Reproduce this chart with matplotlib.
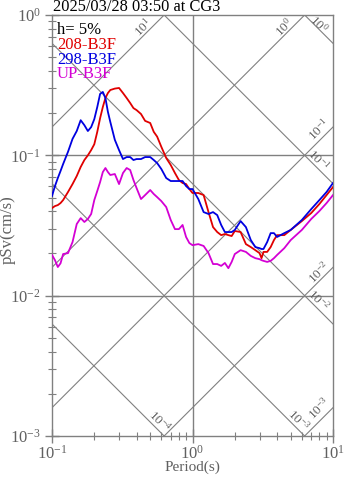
import numpy as np
import matplotlib
matplotlib.use("Agg")
import matplotlib.pyplot as plt
from matplotlib.ticker import LogLocator, LogFormatterSciNotation, NullFormatter

plt.rcParams['font.family'] = ['Liberation Serif', 'DejaVu Serif']
plt.rcParams['mathtext.fontset'] = 'custom'
plt.rcParams['mathtext.rm'] = 'Liberation Serif'
plt.rcParams['mathtext.it'] = 'Liberation Serif:italic'
plt.rcParams['mathtext.bf'] = 'Liberation Serif:bold'

# ---- response spectra (pSv, cm/s) ----
periods = [0.10, 0.105, 0.11, 0.115, 0.12, 0.13, 0.14, 0.15, 0.16, 0.17, 0.18, 0.19,
           0.20, 0.21, 0.22, 0.23, 0.24, 0.25, 0.26, 0.28, 0.30, 0.32, 0.34, 0.36,
           0.38, 0.40, 0.43, 0.46, 0.50, 0.53, 0.56, 0.60, 0.65, 0.70, 0.75, 0.80,
           0.85, 0.90, 0.95, 1.0, 1.1, 1.2, 1.3, 1.4, 1.5, 1.6, 1.7, 1.8, 1.9, 2.0,
           2.2, 2.4, 2.6, 2.8, 3.0, 3.1, 3.2, 3.4, 3.6, 3.8, 4.0, 4.5, 5.0, 6.0,
           7.0, 8.0, 9.0, 10.0]

psv_208 = [0.0421, 0.0435, 0.0442, 0.0457, 0.0480, 0.0548, 0.0624, 0.0712, 0.0826, 0.0926,
           0.100, 0.109, 0.120, 0.147, 0.184, 0.221, 0.256, 0.278, 0.292, 0.299, 0.302,
           0.278, 0.256, 0.236, 0.217, 0.210, 0.197, 0.176, 0.170, 0.147, 0.136, 0.115,
           0.0957, 0.0853, 0.0748, 0.0667, 0.0635, 0.0624, 0.0575, 0.0539, 0.0539, 0.0521,
           0.0394, 0.0308, 0.0284, 0.0270, 0.0275, 0.0270, 0.0266, 0.0289, 0.0284, 0.0233,
           0.0222, 0.0211, 0.0201, 0.0185, 0.0205, 0.0205, 0.0222, 0.0249, 0.0270, 0.0270,
           0.0294, 0.0340, 0.0388, 0.0450, 0.0521, 0.0594]

psv_298 = [0.0513, 0.0604, 0.0689, 0.0773, 0.0867, 0.106, 0.131, 0.149, 0.178, 0.164,
           0.149, 0.159, 0.181, 0.221, 0.274, 0.283, 0.256, 0.204, 0.173, 0.129, 0.109,
           0.0941, 0.0972, 0.0972, 0.0926, 0.0941, 0.0941, 0.0972, 0.0972, 0.0926, 0.0881,
           0.0799, 0.0689, 0.0656, 0.0656, 0.0656, 0.0656, 0.0604, 0.0575, 0.0575, 0.0488,
           0.0394, 0.0382, 0.0394, 0.0375, 0.0319, 0.0284, 0.0284, 0.0284, 0.0294, 0.0340,
           0.0308, 0.0249, 0.0222, 0.0218, 0.0215, 0.0215, 0.0241, 0.0279, 0.0279, 0.0262,
           0.0279, 0.0294, 0.0346, 0.0414, 0.0480, 0.0548, 0.0635]

psv_up = [0.0195, 0.0179, 0.0160, 0.0170, 0.0198, 0.0201, 0.0241, 0.0324, 0.0357, 0.0335,
          0.0352, 0.0382, 0.0480, 0.0557, 0.0645, 0.0760, 0.0812, 0.0760, 0.0724, 0.0736,
          0.0624, 0.0748, 0.0812, 0.0786, 0.0667, 0.0584, 0.0488, 0.0521, 0.0566, 0.0530,
          0.0504, 0.0472, 0.0428, 0.0346, 0.0298, 0.0298, 0.0319, 0.0262, 0.0237, 0.0229,
          0.0233, 0.0226, 0.0201, 0.0168, 0.0168, 0.0163, 0.0171, 0.0157, 0.0174, 0.0198,
          0.0211, 0.0205, 0.0192, 0.0185, 0.0182, 0.0179, 0.0177, 0.0174, 0.0177, 0.0185,
          0.0195, 0.0218, 0.0249, 0.0294, 0.0352, 0.0401, 0.0457, 0.0521]

series_names = ['208-B3F', '298-B3F', 'UP-B3F']
series_colors = ['#e00000', '#0000e0', '#d400d4']

# tripartite guide levels: displacement (cm) and acceleration (cm/s^2)
disp_levels = [1e-4, 1e-3, 1e-2, 1e-1, 1e0]
acc_levels = [1e-3, 1e-2, 1e-1, 1e0, 1e1]

# guide labels: (period, pSv, text, rotation)
guide_labels = [
    (0.445, 0.82, r'$10^{1}$', 45),
    (4.48, 0.82, r'$10^{0}$', 45),
    (7.85, 0.86, r'$10^{0}$', -45),
    (7.94, 0.152, r'$10^{-1}$', 45),
    (7.94, 0.0926, r'$10^{-1}$', -45),
    (7.94, 0.0147, r'$10^{-2}$', 45),
    (7.94, 0.0093, r'$10^{-2}$', -45),
    (5.64, 0.0013, r'$10^{-3}$', -45),
    (7.94, 0.00156, r'$10^{-3}$', 45),
    (0.587, 0.00128, r'$10^{-4}$', -45),
]

W, H = 347, 478
fig = plt.figure(figsize=(W / 100, H / 100), dpi=100)
ax = fig.add_axes([52 / W, (H - 436) / H, 281 / W, 421 / H])
ax.set_xscale('log')
ax.set_yscale('log')
ax.set_xlim(0.1, 10)
ax.set_ylim(1e-3, 1)

grey = '#808080'
txt_grey = '#606060'

# guide lines
t_line = np.geomspace(0.1, 10, 400)
for d in disp_levels:
    ax.plot(t_line, 2 * np.pi * d / t_line, color=grey, lw=0.8, zorder=1)
for a in acc_levels:
    ax.plot(t_line, a * t_line / (2 * np.pi), color=grey, lw=0.8, zorder=1)

for t, v, s, rot in guide_labels:
    ax.text(t, v, s, rotation=rot, rotation_mode='anchor', ha='center', va='center',
            color=txt_grey, fontsize=9.5, zorder=2)

# decade grid
for xv in [1.0]:
    ax.axvline(xv, color=grey, lw=1.0, zorder=1)
for yv in [0.1, 0.01]:
    ax.axhline(yv, color=grey, lw=1.0, zorder=1)

# spectra
for vals, name, col in zip([psv_208, psv_298, psv_up], series_names, series_colors):
    ax.plot(periods, vals, color=col, lw=1.3, zorder=3)

for sp in ax.spines.values():
    sp.set_color(grey)
    sp.set_linewidth(1.0)

ax.xaxis.set_major_locator(LogLocator(base=10))
ax.xaxis.set_minor_locator(LogLocator(base=10, subs=np.arange(2, 10)))
ax.yaxis.set_major_locator(LogLocator(base=10))
ax.yaxis.set_minor_locator(LogLocator(base=10, subs=np.arange(2, 10)))
ax.xaxis.set_major_formatter(LogFormatterSciNotation())
ax.yaxis.set_major_formatter(LogFormatterSciNotation())
ax.xaxis.set_minor_formatter(NullFormatter())
ax.yaxis.set_minor_formatter(NullFormatter())

ax.tick_params(axis='both', which='major', direction='inout', length=10, width=1.0,
               color=grey, labelcolor=txt_grey, labelsize=12)
ax.tick_params(axis='both', which='minor', direction='inout', length=6, width=0.8,
               color=grey)
ax.tick_params(axis='x', which='major', pad=1)
ax.tick_params(axis='y', which='major', pad=3)

ax.set_xlabel('Period(s)', color=txt_grey, fontsize=11)
ax.set_ylabel('pSv(cm/s)', color=txt_grey, fontsize=12)
ax.xaxis.set_label_coords(0.5, (436 - 461) / 421)
ax.yaxis.set_label_coords((16 - 52) / 281, 0.49)

fig.text(53 / W, 1 - 11 / H, '2025/03/28 03:50 at CG3', ha='left', va='baseline',
         fontsize=11.8, color='black')

legend_rows = [('h= 5%', 'black')] + list(zip(series_names, series_colors))
for i, (s, c) in enumerate(legend_rows):
    fig.text(57 / W, 1 - (30.5 + 14.5 * i) / H, s, ha='left', va='center',
             fontsize=12, color=c)

fig.savefig('out.png', dpi=100)
